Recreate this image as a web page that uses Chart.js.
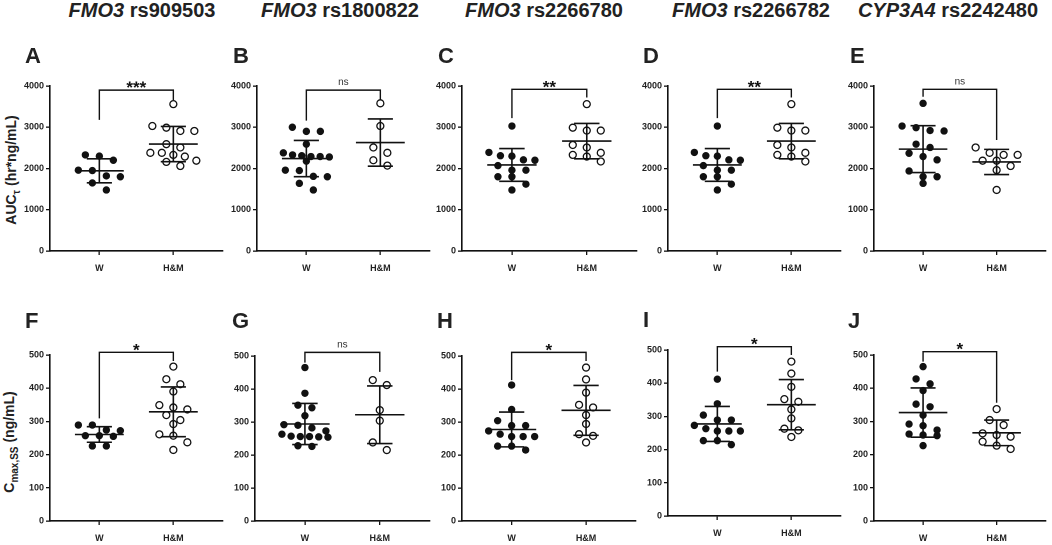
<!DOCTYPE html>
<html>
<head>
<meta charset="utf-8">
<script src="https://cdn.jsdelivr.net/npm/chart.js@4.4.1/dist/chart.umd.min.js"></script>
<style>
  body { margin: 0; background: #fff; width: 1052px; height: 545px; overflow: hidden; position: relative;
         font-family: 'Liberation Sans', Arial, sans-serif; color: #222; }
  .col { position: absolute; top: 0px; font-weight: bold; font-size: 20px; line-height: 1; white-space: nowrap; transform: translateX(-50%); }
  .let { position: absolute; font-weight: bold; font-size: 22px; line-height: 1; }
  .ytitle { position: absolute; font-weight: bold; font-size: 14px; white-space: nowrap; line-height: 1;
            transform: translate(-50%, -50%) rotate(-90deg); }
  .ytitle sub { font-size: 10px; }
  canvas { position: absolute; }
</style>
</head>
<body>
<div class="col" style="left:142px"><i>FMO3</i> rs909503</div>
<div class="col" style="left:340px"><i>FMO3</i> rs1800822</div>
<div class="col" style="left:544px"><i>FMO3</i> rs2266780</div>
<div class="col" style="left:751px"><i>FMO3</i> rs2266782</div>
<div class="col" style="left:948px"><i>CYP3A4</i> rs2242480</div>
<div class="ytitle" style="left:13px;top:170px">AUC<sub>τ</sub> (hr*ng/mL)</div>
<div class="ytitle" style="left:11px;top:442px">C<sub>max,SS</sub> (ng/mL)</div>

<script>
const categories = ['W', 'H&M'];
const panelLetters = ['A', 'B', 'C', 'D', 'E', 'F', 'G', 'H', 'I', 'J'];

// AUC tau (hr*ng/mL), one list per SNP
const aucW = [
  [2330, 2300, 2200, 1960, 1950, 1820, 1800, 1650, 1480],
  [3000, 2900, 2900, 2590, 2380, 2330, 2310, 2290, 2290, 2280, 2180, 1960, 1950, 1810, 1800, 1640, 1480],
  [3030, 2390, 2310, 2300, 2210, 2200, 2070, 1960, 1960, 1800, 1800, 1620, 1480],
  [3030, 2390, 2310, 2300, 2210, 2200, 2070, 1960, 1960, 1800, 1800, 1620, 1480],
  [3580, 3030, 2990, 2920, 2910, 2590, 2510, 2370, 2290, 2210, 1940, 1800, 1800, 1640]
];
const aucHM = [
  [3560, 3030, 2990, 2910, 2910, 2590, 2510, 2380, 2380, 2330, 2290, 2190, 2160, 2060],
  [3580, 3030, 2510, 2380, 2200, 2070],
  [3560, 2990, 2920, 2920, 2570, 2510, 2380, 2330, 2290, 2170],
  [3560, 2990, 2920, 2920, 2570, 2510, 2380, 2330, 2290, 2170],
  [2510, 2380, 2330, 2330, 2190, 2190, 2060, 1960, 1480]
];
// Cmax,ss (ng/mL)
const cmaxW = [
  [289, 289, 274, 272, 257, 255, 257, 226, 226],
  [465, 387, 351, 343, 319, 292, 290, 282, 273, 263, 257, 256, 256, 255, 254, 228, 226],
  [412, 338, 304, 289, 289, 273, 263, 256, 256, 256, 227, 227, 215],
  [412, 338, 304, 289, 289, 273, 263, 256, 256, 256, 227, 227, 215],
  [465, 428, 413, 393, 352, 344, 319, 292, 287, 274, 262, 259, 257, 227]
];
const cmaxHM = [
  [465, 427, 412, 390, 349, 342, 336, 319, 304, 292, 261, 257, 237, 214],
  [427, 412, 336, 304, 238, 215],
  [465, 429, 389, 352, 344, 321, 294, 263, 258, 238],
  [465, 429, 389, 352, 344, 321, 294, 263, 258, 238],
  [337, 304, 289, 264, 259, 254, 239, 227, 217]
];

const aucTicks = [0, 1000, 2000, 3000, 4000];
const cmaxTicks = [0, 100, 200, 300, 400, 500];

const aucSig = ['***', 'ns', '**', '**', 'ns'];
const cmaxSig = ['*', 'ns', '*', '*', '*'];
// bracket: bar height, bottom of W leg, bottom of H&M leg
const aucBar = [3900, 3900, 3920, 3920, 3920];
const aucLegW = [3180, 3160, 3220, 3220, 3740];
const aucLegHM = [3660, 3660, 3720, 3720, 2690];
const cmaxBar = [508, 511, 511, 510, 510];
const cmaxLegW = [309, 480, 427, 435, 480];
const cmaxLegHM = [482, 452, 485, 485, 356];

// where each plot area sits on the page
const frames = [
  { l: 50,  r: 225,  t: 86,  b: 251, lx: 25,  ly: 45 },
  { l: 257, r: 432,  t: 86,  b: 251, lx: 233, ly: 45 },
  { l: 462, r: 639,  t: 86,  b: 251, lx: 438, ly: 45 },
  { l: 668, r: 843,  t: 86,  b: 251, lx: 643, ly: 45 },
  { l: 874, r: 1048, t: 86,  b: 251, lx: 850, ly: 45 },
  { l: 50,  r: 225,  t: 355, b: 521, lx: 25,  ly: 310 },
  { l: 255, r: 432,  t: 356, b: 521, lx: 232, ly: 310 },
  { l: 462, r: 638,  t: 356, b: 521, lx: 437, ly: 310 },
  { l: 668, r: 843,  t: 350, b: 516, lx: 643, ly: 309 },
  { l: 874, r: 1048, t: 355, b: 521, lx: 848, ly: 310 }
];

const FONT = "'Liberation Sans', Arial, sans-serif";
const INK = '#111';
const ROW = 8;      // dots within this many px vertically share a row
const GAP = 14;     // preferred px between dots in a row
const WIDE = 46;    // widest a row may get, px

function mean(a) { return a.reduce((s, v) => s + v, 0) / a.length; }
function sd(a) {
  const m = mean(a);
  return Math.sqrt(a.reduce((s, v) => s + (v - m) * (v - m), 0) / (a.length - 1));
}

function statLines(vals, c) {
  const m = mean(vals), s = sd(vals);
  const gap = { x: c, y: null };
  return [
    { x: c - 0.33, y: m }, { x: c + 0.33, y: m }, gap,
    { x: c - 0.17, y: m + s }, { x: c + 0.17, y: m + s }, gap,
    { x: c - 0.17, y: m - s }, { x: c + 0.17, y: m - s }, gap,
    { x: c, y: m - s }, { x: c, y: m + s }
  ];
}

// Prism-like dot plot: bin the dots into rows, centre each row
function swarm(vals, c, chart) {
  const ys = chart.scales.y, xs = chart.scales.x;
  const pxUnit = xs.getPixelForValue(1) - xs.getPixelForValue(0);
  const sorted = vals.slice().sort((a, b) => b - a);
  const rows = [];
  sorted.forEach(v => {
    const py = ys.getPixelForValue(v);
    const last = rows[rows.length - 1];
    if (last && py - last.py0 < ROW) last.items.push(v);
    else rows.push({ py0: py, items: [v] });
  });
  const out = [];
  rows.forEach(r => {
    const n = r.items.length;
    const step = n > 1 ? Math.min(GAP, WIDE / (n - 1)) : 0;
    r.items.forEach((v, j) => {
      const off = (j - (n - 1) / 2) * step;
      out.push({ x: c + off / pxUnit, y: v });
    });
  });
  return out;
}

const bracketPlugin = {
  id: 'bracket',
  afterDatasetsDraw(chart, args, o) {
    const ctx = chart.ctx, xs = chart.scales.x, ys = chart.scales.y;
    const x0 = xs.getPixelForValue(0), x1 = xs.getPixelForValue(1);
    const yb = ys.getPixelForValue(o.bar);
    ctx.save();
    ctx.strokeStyle = INK;
    ctx.lineWidth = 1.4;
    ctx.beginPath();
    ctx.moveTo(x0, ys.getPixelForValue(o.legW));
    ctx.lineTo(x0, yb);
    ctx.lineTo(x1, yb);
    ctx.lineTo(x1, ys.getPixelForValue(o.legHM));
    ctx.stroke();
    ctx.textAlign = 'center';
    ctx.textBaseline = 'alphabetic';
    if (o.sig === 'ns') {
      ctx.fillStyle = '#333';
      ctx.font = '10px ' + FONT;
      ctx.fillText('ns', (x0 + x1) / 2, yb - 5);
    } else {
      ctx.fillStyle = INK;
      ctx.font = 'bold 17px ' + FONT;
      ctx.fillText(o.sig, (x0 + x1) / 2, yb + 3);
    }
    ctx.restore();
  }
};

function axisStyle() {
  return {
    grid: { display: true, drawOnChartArea: false, drawTicks: true, tickLength: 4, color: INK, lineWidth: 1.3 },
    border: { display: true, color: INK, width: 1.6 }
  };
}

function makePanel(idx) {
  const f = frames[idx];
  const row = idx < 5 ? 0 : 1;
  const k = idx % 5;
  const wVals = row ? cmaxW[k] : aucW[k];
  const hVals = row ? cmaxHM[k] : aucHM[k];
  const ticks = row ? cmaxTicks : aucTicks;

  const left = f.l - 45, top = f.t - 32;
  const w = f.r - left + 3, h = f.b + 28 - top;
  const cv = document.createElement('canvas');
  cv.width = w; cv.height = h;
  cv.style.left = left + 'px'; cv.style.top = top + 'px';
  cv.style.width = w + 'px'; cv.style.height = h + 'px';
  document.body.appendChild(cv);

  const lt = document.createElement('div');
  lt.className = 'let';
  lt.style.left = f.lx + 'px'; lt.style.top = f.ly + 'px';
  lt.textContent = panelLetters[idx];
  document.body.appendChild(lt);

  const tickFont = { size: 9, weight: 'bold', family: FONT };

  const chart = new Chart(cv, {
    type: 'scatter',
    data: {
      datasets: [
        {
          type: 'line', data: statLines(wVals, 0).concat([{ x: 0.5, y: null }], statLines(hVals, 1)),
          borderColor: INK, borderWidth: 1.6, pointRadius: 0, showLine: true, spanGaps: false, order: 0
        },
        {
          data: wVals.map(v => ({ x: 0, y: v })),
          pointRadius: 3.7, pointBackgroundColor: INK, pointBorderColor: INK, pointBorderWidth: 0, order: 1
        },
        {
          data: hVals.map(v => ({ x: 1, y: v })),
          pointRadius: 3.5, pointBackgroundColor: '#fff', pointBorderColor: INK, pointBorderWidth: 1.3, order: 1
        }
      ]
    },
    options: {
      responsive: false,
      animation: false,
      devicePixelRatio: 2,
      layout: { padding: { top: 32, right: 3, left: 0, bottom: 0 } },
      plugins: {
        legend: { display: false },
        tooltip: { enabled: false },
        bracket: {
          sig: row ? cmaxSig[k] : aucSig[k],
          bar: row ? cmaxBar[k] : aucBar[k],
          legW: row ? cmaxLegW[k] : aucLegW[k],
          legHM: row ? cmaxLegHM[k] : aucLegHM[k]
        }
      },
      scales: {
        x: Object.assign(axisStyle(), {
          type: 'linear', min: -0.667, max: 1.667,
          afterBuildTicks: s => { s.ticks = [{ value: 0 }, { value: 1 }]; },
          afterFit: s => { s.height = 28; },
          ticks: { callback: v => categories[v], font: tickFont, color: '#222', padding: 8, maxRotation: 0, autoSkip: false }
        }),
        y: Object.assign(axisStyle(), {
          min: 0, max: ticks[ticks.length - 1],
          afterBuildTicks: s => { s.ticks = ticks.map(v => ({ value: v })); },
          afterFit: s => { s.width = 45; },
          ticks: { callback: v => String(v), font: tickFont, color: '#222', padding: 2 }
        })
      }
    },
    plugins: [bracketPlugin]
  });

  chart.data.datasets[1].data = swarm(wVals, 0, chart);
  chart.data.datasets[2].data = swarm(hVals, 1, chart);
  chart.update('none');
}

for (let i = 0; i < 10; i++) makePanel(i);
</script>
</body>
</html>
